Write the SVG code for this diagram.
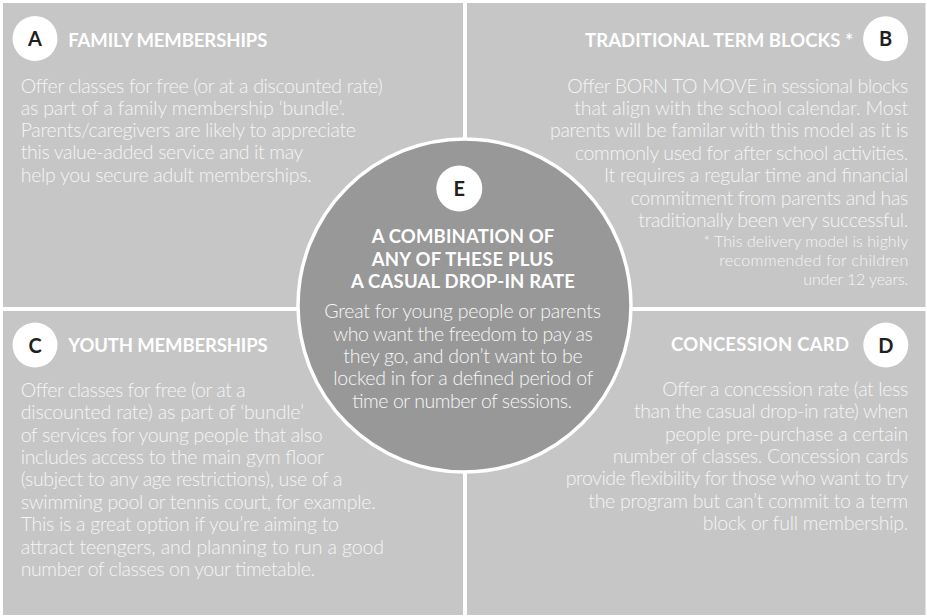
<svg xmlns="http://www.w3.org/2000/svg" width="927" height="616" viewBox="0 0 927 616">
<style>
.q{fill:#c6c6c6}
.body{font-family:Lato,"Noto Sans",sans-serif;font-weight:300;font-size:19.5px;fill:#f5f5f5}
.foot{font-family:Lato,"Noto Sans",sans-serif;font-weight:300;font-size:16px;fill:#f5f5f5}
.head{font-family:Lato,"Noto Sans",sans-serif;font-weight:700;font-size:18.5px;fill:#ffffff}
.badge circle{fill:#ffffff}
.badge text{font-family:Lato,"Noto Sans",sans-serif;font-weight:700;font-size:20px;fill:#231f20;text-anchor:middle}
.ebody{font-family:Lato,"Noto Sans",sans-serif;font-weight:300;font-size:19.5px;fill:#f7f7f7}
</style>
<rect width="927" height="616" fill="#ffffff"/>
<g id="connectors"></g>

<g id="node-A">
<rect class="q" x="3" y="3" width="460" height="304"/>
<g class="badge"><circle cx="35" cy="38.5" r="22.5"/><text x="35" y="46">A</text></g>
<text class="head" x="68.3" y="46.5" textLength="199">FAMILY MEMBERSHIPS</text>
<text class="body" x="20.7" y="92.5" textLength="362">Offer classes for free (or at a discounted rate)</text>
<text class="body" x="20.7" y="114.8" textLength="324.3">as part of a family membership ‘bundle’.</text>
<text class="body" x="20.7" y="137.1" textLength="335.3">Parents/caregivers are likely to appreciate</text>
<text class="body" x="20.7" y="159.4" textLength="282.7">this value-added service and it may</text>
<text class="body" x="20.7" y="181.7" textLength="291">help you secure adult memberships.</text>
</g>

<g id="node-B">
<rect class="q" x="467" y="3" width="458.5" height="304"/>
<g class="badge"><circle cx="885.6" cy="38.8" r="22.5"/><text x="885.6" y="46">B</text></g>
<text class="head" x="585" y="46.6" textLength="268">TRADITIONAL TERM BLOCKS *</text>
<text class="body" x="567.3" y="92.5" textLength="341">Offer BORN TO MOVE in sessional blocks</text>
<text class="body" x="574.3" y="114.9" textLength="334">that align with the school calendar. Most</text>
<text class="body" x="550" y="137.3" textLength="358.3">parents will be familar with this model as it is</text>
<text class="body" x="575" y="159.7" textLength="333.3">commonly used for after school activities.</text>
<text class="body" x="604" y="182.1" textLength="304.3">It requires a regular time and financial</text>
<text class="body" x="630.7" y="204.5" textLength="277.6">commitment from parents and has</text>
<text class="body" x="638.3" y="226.9" textLength="270">traditionally been very successful.</text>
<text class="foot" x="703.3" y="247" textLength="205">* This delivery model is highly</text>
<text class="foot" x="719.3" y="266" textLength="189">recommended  for children</text>
<text class="foot" x="803.3" y="285" textLength="105">under 12 years.</text>
</g>

<g id="node-C">
<rect class="q" x="3" y="311" width="460" height="304"/>
<g class="badge"><circle cx="35" cy="345" r="22.5"/><text x="35" y="352.5">C</text></g>
<text class="head" x="68.3" y="352.3" textLength="199.4">YOUTH MEMBERSHIPS</text>
<text class="body" x="20.7" y="396.7" textLength="225">Offer classes for free (or at a</text>
<text class="body" x="20.7" y="419.1" textLength="283.3">discounted rate) as part of ‘bundle’</text>
<text class="body" x="20.7" y="441.5" textLength="302">of services for young people that also</text>
<text class="body" x="20.7" y="463.9" textLength="303.3">includes access to the main gym floor</text>
<text class="body" x="20.7" y="486.3" textLength="321.7">(subject to any age restrictions), use of a</text>
<text class="body" x="20.7" y="508.7" textLength="355">swimming pool or tennis court, for example.</text>
<text class="body" x="20.7" y="531.1" textLength="318.3">This is a great option if you’re aiming to</text>
<text class="body" x="20.7" y="553.5" textLength="363.3">attract teengers, and  planning to run a good</text>
<text class="body" x="20.7" y="575.9" textLength="294.3">number of classes on your timetable.</text>
</g>

<g id="node-D">
<rect class="q" x="467" y="311" width="458.5" height="304"/>
<g class="badge"><circle cx="885.8" cy="345" r="22.5"/><text x="885.8" y="352.5">D</text></g>
<text class="head" x="671" y="350.7" textLength="178">CONCESSION CARD</text>
<text class="body" x="662.3" y="395.7" textLength="246">Offer a concession rate (at less</text>
<text class="body" x="634" y="418.1" textLength="274.3">than the casual drop-in rate) when</text>
<text class="body" x="665" y="440.5" textLength="243.3">people pre-purchase a certain</text>
<text class="body" x="612.7" y="462.9" textLength="295.6">number of classes. Concession cards</text>
<text class="body" x="565.7" y="485.3" textLength="342.6">provide flexibility for those who want to try</text>
<text class="body" x="588.3" y="507.7" textLength="320">the program but can’t commit to a term</text>
<text class="body" x="702.7" y="530.1" textLength="205.6">block or full membership.</text>
</g>

<g id="node-E">
<circle cx="464.5" cy="305.5" r="166.5" fill="#989898" stroke="#ffffff" stroke-width="3.5"/>
<g class="badge"><circle cx="459.3" cy="188.5" r="23"/><text x="459.3" y="196">E</text></g>
<text class="head" x="371.7" y="243.3" textLength="182.6">A COMBINATION OF</text>
<text class="head" x="371.7" y="265.8" textLength="181.7">ANY OF THESE PLUS</text>
<text class="head" x="351" y="288.3" textLength="224">A CASUAL DROP-IN RATE</text>
<text class="ebody" x="324.3" y="318.3" textLength="276.7">Great for young people or parents</text>
<text class="ebody" x="333.3" y="340.6" textLength="259.4">who want the freedom to pay as</text>
<text class="ebody" x="343.3" y="362.9" textLength="239.3">they go, and don’t want to be</text>
<text class="ebody" x="333.3" y="385.2" textLength="260">locked in for a defined period of</text>
<text class="ebody" x="351.7" y="407.5" textLength="220">time or number of sessions.</text>
</g>
</svg>
